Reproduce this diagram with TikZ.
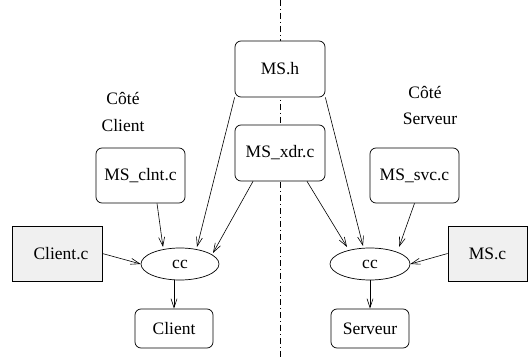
\documentclass[tikz,border=0pt]{standalone}
\usepackage{fontspec}
\setmainfont{Liberation Serif}
\newfontfamily\labelfont{Liberation Serif}
\usetikzlibrary{arrows.meta,shapes.geometric}
\definecolor{boxgray}{RGB}{240,240,240}
\tikzset{
  every node/.style={font=\labelfont\fontsize{17.5}{21}\selectfont, inner sep=0pt},
  filebox/.style={draw, line width=0.7pt, rounded corners=6pt, fill=white, minimum width=89pt, minimum height=56pt},
  srcbox/.style={draw, line width=0.7pt, fill=boxgray, minimum width=90pt, minimum height=55pt},
  outbox/.style={draw, line width=0.7pt, rounded corners=6pt, fill=white, minimum width=78pt, minimum height=39pt},
  ccnode/.style={draw, line width=0.7pt, ellipse, fill=white, minimum width=79pt, minimum height=32pt},
  arr/.style={line width=0.6pt, -{Straight Barb[length=9pt,width=6pt]}},
  sep/.style={line width=0.6pt, dash pattern=on 6pt off 3pt on 1pt off 3pt}
}
\begin{document}
\begin{tikzpicture}[x=1pt,y=-1pt]
\useasboundingbox (0,0) rectangle (528,358);
\coordinate (septop) at (280,0);
\coordinate (sepbot) at (280,358);
\draw[sep] (septop) -- (sepbot);

\node[filebox, minimum width=90pt] (msh) at (280,69) {MS.h};
\node[filebox, minimum width=90pt] (xdr) at (280,153) {MS\_xdr.c};
\node[filebox, minimum height=55pt] (clnt) at (140.5,175.5) {MS\_clnt.c};
\node[filebox, minimum height=55pt] (svc) at (414.5,175.5) {MS\_svc.c};
\node[srcbox] (clientc) at (57,253.5) {\hspace{8pt}Client.c};
\node[srcbox, minimum width=79pt] (msc) at (487.5,253.5) {MS.c};
\node[ccnode, minimum width=78pt] (cc1) at (180,264) {cc};
\node[ccnode, minimum width=80pt] (cc2) at (370,264) {cc};
\node[outbox] (client) at (174,328.5) {Client};
\node[outbox] (serveur) at (370,328.5) {Serveur};

\node (cote1) at (123,98) {Côté};
\node (side1) at (123,126) {Client};
\node (cote2) at (425,92) {Côté};
\node (side2) at (430,119) {Serveur};

% client side
\draw[arr] ([xshift=16.5pt]clnt.south) -- ([shift={(-17pt,17pt)}]cc1.center);
\draw[arr] (msh.south west) -- ([shift={(17pt,17pt)}]cc1.center);
\draw[arr] ([xshift=-27pt]xdr.south) -- ([shift={(33pt,11pt)}]cc1.center);
\draw[arr] (clientc.east) -- (cc1.west);
\draw[arr] (cc1.south -| client.north) -- (client.north);

% server side
\draw[arr] ([xshift=27pt]xdr.south) -- ([shift={(-23pt,17pt)}]cc2.center);
\draw[arr] (msh.south east) -- ([shift={(-7pt,18pt)}]cc2.center);
\draw[arr] (svc.south) -- ([shift={(29pt,17pt)}]cc2.center);
\draw[arr] (msc.west) -- (cc2.east);
\draw[arr] (cc2.south) -- (serveur.north);
\end{tikzpicture}
\end{document}
